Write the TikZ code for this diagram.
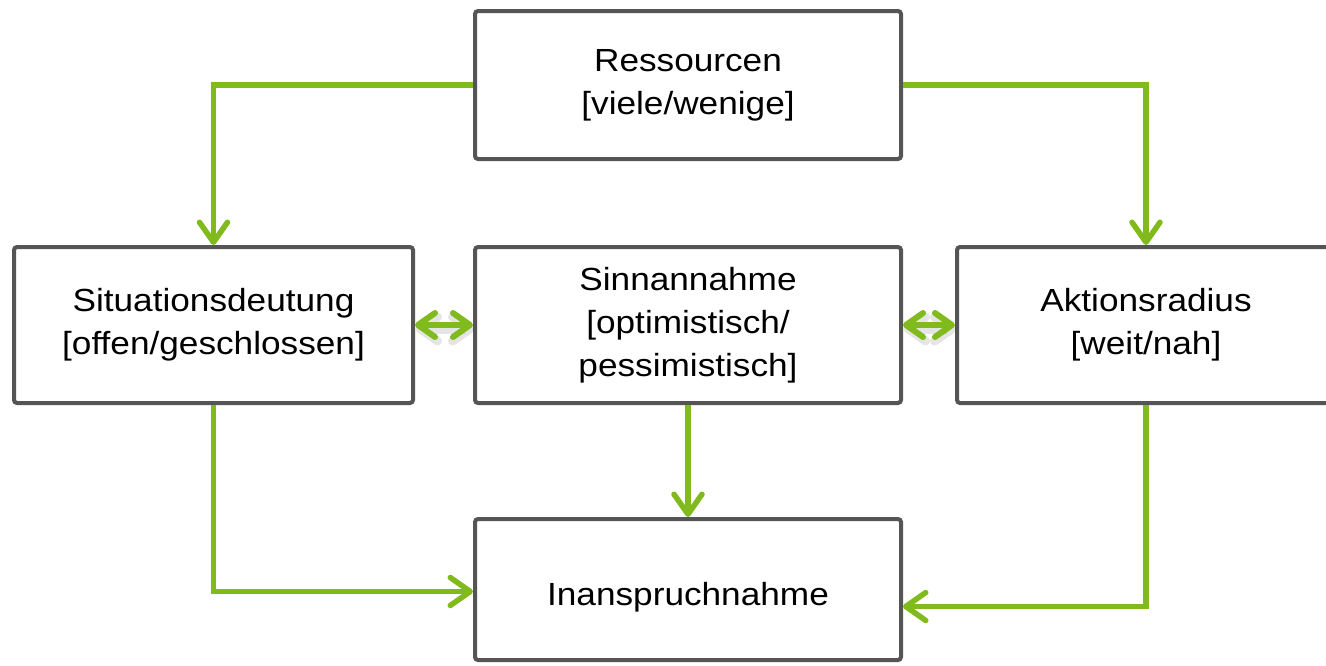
\documentclass[tikz,border=0pt]{standalone}
\usepackage{fontspec}
\setmainfont[FakeStretch=1.1]{Liberation Sans}
\usetikzlibrary{arrows.meta,calc}
\definecolor{boxgray}{RGB}{85,85,85}
\definecolor{arrgreen}{RGB}{128,186,28}
\begin{document}
\begin{tikzpicture}[x=1pt,y=-1pt,
  box/.style={draw=boxgray,line width=4pt,rounded corners=3pt,fill=white,
    inner sep=0pt,align=center,font=\fontsize{32pt}{43pt}\selectfont},
  flow/.style={draw=arrgreen,line width=5.5pt,
    -{Straight Barb[length=20pt,width=28pt,line width=5.5pt,round]}},
  both/.style={draw=arrgreen,line width=6pt,
    {Straight Barb[length=17pt,width=24pt,line width=6pt,round]}-{Straight Barb[length=17pt,width=24pt,line width=6pt,round]}},
  bothshadow/.style={draw=black,opacity=0.10,line width=9pt,
    {Straight Barb[length=17pt,width=24pt,line width=9pt,round]}-{Straight Barb[length=17pt,width=24pt,line width=9pt,round]}}
]
\useasboundingbox (0,0) rectangle (1326,665);
\clip (0,0) rectangle (1326,665);
\node[box,minimum width=426pt,minimum height=148pt] (res) at (688,85) {Ressourcen\\{}[viele/wenige]};
\node[box,minimum width=399pt,minimum height=156pt] (sit) at (213.5,325) {Situationsdeutung\\{}[offen/geschlossen]};
\node[box,minimum width=426pt,minimum height=156pt] (sinn) at (688,325) {Sinnannahme\\{}[optimistisch/\\pessimistisch]};
\node[box,minimum width=378pt,minimum height=156pt] (akt) at (1146,325) {Aktionsradius\\{}[weit/nah]};
\node[box,minimum width=426pt,minimum height=141pt,text height=31pt,text depth=0pt] (inan) at (688,589.5) {Inanspruchnahme};
\draw[flow] (res.west) -| (sit.north);
\draw[flow] (res.east) -| (akt.north);
\draw[flow] (sinn.south) -- (inan.north);
\draw[flow] (sit.south) |- ([yshift=-2pt]inan.west);
\draw[flow] (akt.south) |- ([yshift=-17pt]inan.east);
\draw[bothshadow] ([xshift=1pt,yshift=-4pt]sit.east) -- ([xshift=1pt,yshift=-4pt]sinn.west);
\draw[bothshadow] ([xshift=1pt,yshift=-4pt]sinn.east) -- ([xshift=1pt,yshift=-4pt]akt.west);
\draw[both] (sit.east) -- (sinn.west);
\draw[both] (sinn.east) -- (akt.west);
\end{tikzpicture}
\end{document}
